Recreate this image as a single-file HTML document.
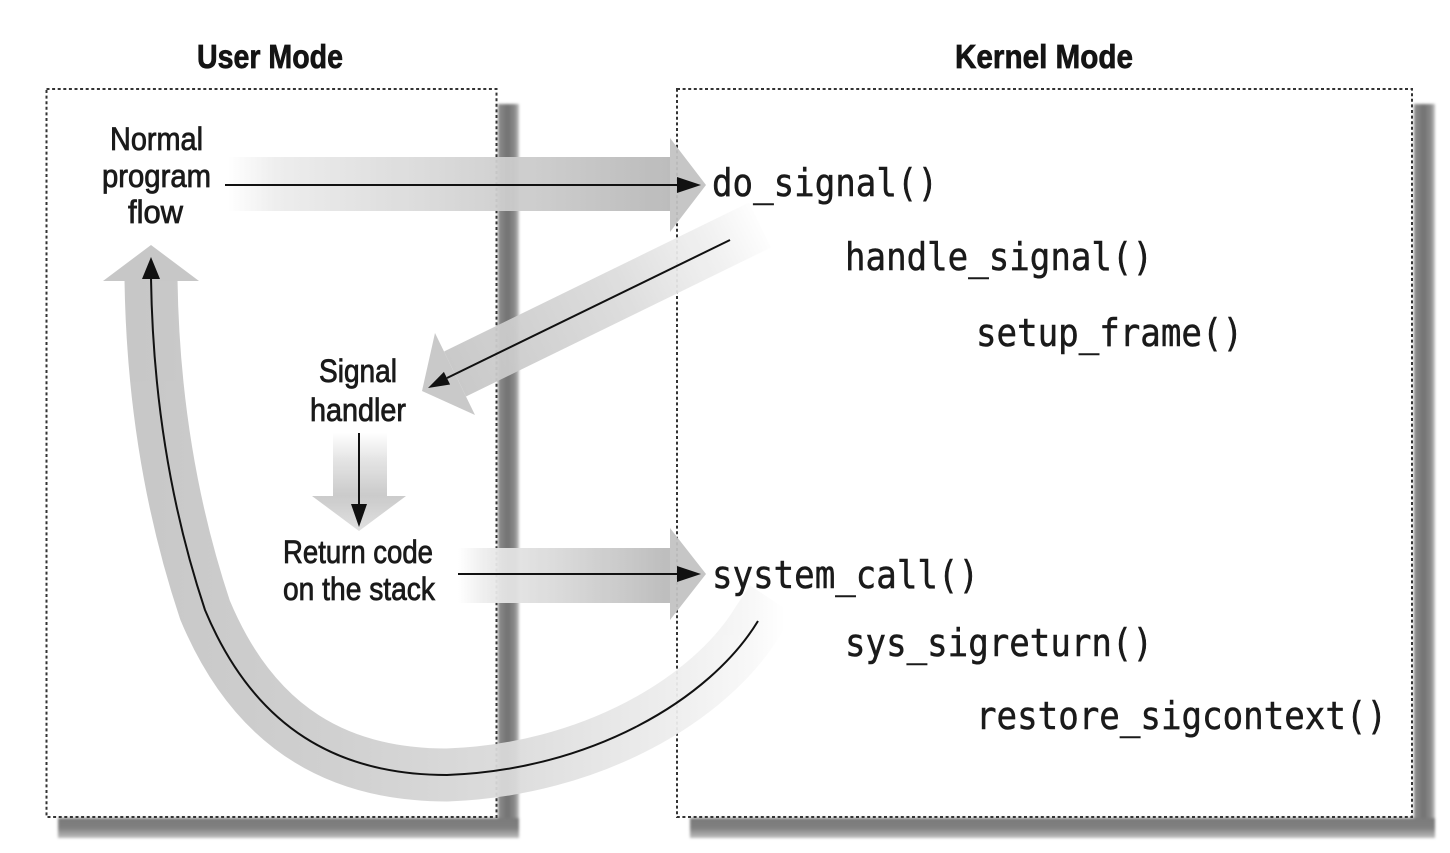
<!DOCTYPE html>
<html>
<head>
<meta charset="utf-8">
<style>
  html, body { margin: 0; padding: 0; background: #ffffff; }
  body { width: 1450px; height: 853px; overflow: hidden; }
  svg { display: block; }
</style>
</head>
<body>
<svg width="1450" height="853" viewBox="0 0 1450 853" xmlns="http://www.w3.org/2000/svg">
  <defs>
    <filter id="soft" x="-10%" y="-10%" width="120%" height="120%">
      <feGaussianBlur stdDeviation="1.3"/>
    </filter>
    <linearGradient id="shV" x1="0" y1="0" x2="1" y2="0">
      <stop offset="0" stop-color="#8e8e8e"/>
      <stop offset="0.45" stop-color="#727272"/>
      <stop offset="0.8" stop-color="#8a8a8a"/>
      <stop offset="1" stop-color="#c4c4c4"/>
    </linearGradient>
    <linearGradient id="shH" x1="0" y1="0" x2="0" y2="1">
      <stop offset="0" stop-color="#7a7a7a"/>
      <stop offset="0.5" stop-color="#808080"/>
      <stop offset="1" stop-color="#bdbdbd"/>
    </linearGradient>
    <linearGradient id="gTop" gradientUnits="userSpaceOnUse" x1="228" y1="0" x2="672" y2="0">
      <stop offset="0" stop-color="#ffffff"/>
      <stop offset="0.12" stop-color="#ececec"/>
      <stop offset="0.5" stop-color="#d6d6d6"/>
      <stop offset="1" stop-color="#b8b8b8"/>
    </linearGradient>
    <linearGradient id="gLow" gradientUnits="userSpaceOnUse" x1="458" y1="0" x2="672" y2="0">
      <stop offset="0" stop-color="#ffffff"/>
      <stop offset="0.15" stop-color="#eaeaea"/>
      <stop offset="0.55" stop-color="#d4d4d4"/>
      <stop offset="1" stop-color="#b9b9b9"/>
    </linearGradient>
    <linearGradient id="gVert" gradientUnits="userSpaceOnUse" x1="0" y1="433" x2="0" y2="498">
      <stop offset="0" stop-color="#ffffff"/>
      <stop offset="0.4" stop-color="#e4e4e4"/>
      <stop offset="1" stop-color="#c6c6c6"/>
    </linearGradient>
    <linearGradient id="gVertHead" gradientUnits="userSpaceOnUse" x1="0" y1="496" x2="0" y2="530">
      <stop offset="0" stop-color="#c8c8c8"/>
      <stop offset="1" stop-color="#dedede"/>
    </linearGradient>
    <linearGradient id="gDiag" gradientUnits="userSpaceOnUse" x1="765" y1="222" x2="455" y2="374">
      <stop offset="0" stop-color="#ffffff"/>
      <stop offset="0.15" stop-color="#f2f2f2"/>
      <stop offset="0.5" stop-color="#dadada"/>
      <stop offset="1" stop-color="#c6c6c6"/>
    </linearGradient>
    <linearGradient id="gCurve" gradientUnits="userSpaceOnUse" x1="140" y1="0" x2="785" y2="0">
      <stop offset="0" stop-color="#c4c4c4"/>
      <stop offset="0.3" stop-color="#cdcdcd"/>
      <stop offset="0.55" stop-color="#d9d9d9"/>
      <stop offset="0.8" stop-color="#ebebeb"/>
      <stop offset="0.95" stop-color="#f8f8f8"/>
      <stop offset="1" stop-color="#ffffff"/>
    </linearGradient>
  </defs>

  <rect x="0" y="0" width="1450" height="853" fill="#ffffff"/>

  <!-- Shadows -->
  <g filter="url(#soft)">
    <rect x="498" y="104" width="21" height="734" fill="url(#shV)"/>
    <rect x="58" y="818" width="461" height="20" fill="url(#shH)"/>
    <rect x="1414" y="104" width="21" height="734" fill="url(#shV)"/>
    <rect x="690" y="818" width="745" height="20" fill="url(#shH)"/>
  </g>

  <!-- Dotted boxes -->
  <g fill="none" stroke="#333333" stroke-width="2" stroke-dasharray="3 2.6">
    <rect x="46.5" y="89" width="450" height="728"/>
    <rect x="677" y="89" width="735" height="728"/>
  </g>

  <!-- Wide gray arrows -->
  <g opacity="0.94">
    <rect x="226" y="157" width="446" height="54" fill="url(#gTop)"/>
    <polygon points="670,138 706,185 670,232" fill="#c3c3c3"/>
    <rect x="458" y="548" width="214" height="55" fill="url(#gLow)"/>
    <polygon points="670,528 706,574 670,620" fill="#c3c3c3"/>
    <rect x="333" y="433" width="54" height="64" fill="url(#gVert)"/>
    <polygon points="312,496 406,496 359,531" fill="url(#gVertHead)"/>
    <polygon points="466,396.5 444,351.5 749,202.5 771,247.5" fill="url(#gDiag)"/>
    <polygon points="435,333 475,415 422,391" fill="#c6c6c6"/>
    <path d="M 772 600 L 758 621 C 710 700, 590 770, 447 775 C 340 775, 255 730, 205 610 C 175 520, 153 410, 151 280"
          fill="none" stroke="url(#gCurve)" stroke-width="53"/>
    <polygon points="103,281 151,245 199,281" fill="#c4c4c4"/>
  </g>

  <!-- Black thin arrows -->
  <g stroke="#111111" stroke-width="2" fill="none">
    <line x1="225" y1="185" x2="682" y2="185"/>
    <line x1="458" y1="574" x2="682" y2="574"/>
    <line x1="359" y1="433" x2="359" y2="506"/>
    <line x1="730" y1="240" x2="447" y2="378"/>
    <path d="M 758 621 C 710 700, 590 770, 447 775 C 340 775, 255 730, 205 610 C 175 520, 153 410, 151 278"/>
  </g>
  <g fill="#111111">
    <polygon points="677,177 701,185 677,193"/>
    <polygon points="677,566 701,574 677,582"/>
    <polygon points="351,504 367,504 359,527"/>
    <polygon points="450.1,384.5 443.9,371.9 428,388"/>
    <polygon points="142,279 160,279 151,257"/>
  </g>

  <!-- Titles -->
  <g font-family="'Liberation Sans Narrow','Liberation Sans',sans-serif" font-weight="bold" font-size="33" fill="#141414" stroke="#141414" stroke-width="0.7">
    <text x="197" y="68" textLength="146" lengthAdjust="spacingAndGlyphs">User Mode</text>
    <text x="955" y="68" textLength="178" lengthAdjust="spacingAndGlyphs">Kernel Mode</text>
  </g>

  <!-- User-mode labels -->
  <g font-family="'Liberation Sans Narrow','Liberation Sans',sans-serif" font-size="32" fill="#1a1a1a" stroke="#1a1a1a" stroke-width="0.8">
    <text x="110" y="150" textLength="93" lengthAdjust="spacingAndGlyphs">Normal</text>
    <text x="102" y="187" textLength="109" lengthAdjust="spacingAndGlyphs">program</text>
    <text x="128" y="223" textLength="55" lengthAdjust="spacingAndGlyphs">flow</text>
    <text x="319" y="382" textLength="78" lengthAdjust="spacingAndGlyphs">Signal</text>
    <text x="310" y="421" textLength="96" lengthAdjust="spacingAndGlyphs">handler</text>
    <text x="283" y="563" textLength="150" lengthAdjust="spacingAndGlyphs">Return code</text>
    <text x="283" y="600" textLength="152" lengthAdjust="spacingAndGlyphs">on the stack</text>
  </g>

  <!-- Kernel functions -->
  <g font-family="'DejaVu Sans Mono','Liberation Mono',monospace" font-size="38" fill="#1a1a1a" stroke="#1a1a1a" stroke-width="0.5">
    <text x="712" y="196" textLength="226" lengthAdjust="spacingAndGlyphs">do_signal()</text>
    <text x="845" y="270" textLength="308" lengthAdjust="spacingAndGlyphs">handle_signal()</text>
    <text x="976" y="346" textLength="267" lengthAdjust="spacingAndGlyphs">setup_frame()</text>
    <text x="712" y="588" textLength="267" lengthAdjust="spacingAndGlyphs">system_call()</text>
    <text x="845" y="656" textLength="308" lengthAdjust="spacingAndGlyphs">sys_sigreturn()</text>
    <text x="976" y="729" textLength="411" lengthAdjust="spacingAndGlyphs">restore_sigcontext()</text>
  </g>
</svg>
</body>
</html>
